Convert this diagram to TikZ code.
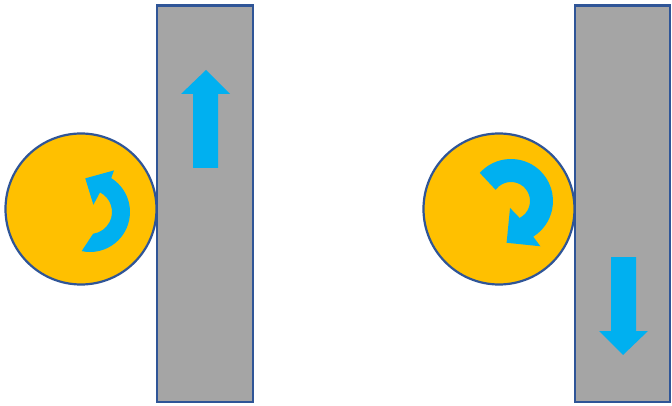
\documentclass[tikz,border=0pt]{standalone}
\usetikzlibrary{calc}
\definecolor{ballfill}{HTML}{FFC000}
\definecolor{edgeblue}{HTML}{2F5597}
\definecolor{wallgray}{HTML}{A5A5A5}
\definecolor{arrowblue}{HTML}{00B0F0}
\tikzset{
  ball/.style={fill=ballfill,draw=edgeblue,line width=2.2pt},
  wall/.style={fill=wallgray,draw=edgeblue,line width=2.2pt},
  blueshape/.style={fill=arrowblue,draw=none}
}
\begin{document}
\begin{tikzpicture}[x=1pt,y=-1pt]
\useasboundingbox (0,0) rectangle (672,406);
% left scene
\draw[ball] (81,209) circle[radius=75.5];
\draw[wall] (157,5.5) rectangle (253,402);
\fill[blueshape] (193,168) -- (193,94) -- (181,94) -- (206,70) -- (230,94) -- (218,94) -- (218,168) -- cycle;
\coordinate (lc) at (90,212);
\fill[blueshape] ($(lc)+(102:40)$) arc[start angle=102,end angle=-58,radius=40]
  -- ($(lc)+(-60:48)$) -- ($(lc)+(-98:34)$) -- ($(lc)+(-65:8)$) -- ($(lc)+(-63:22)$)
  arc[start angle=-63,end angle=82,radius=22] -- cycle;
% right scene
\draw[ball] (499,209) circle[radius=75.5];
\draw[wall] (575,5.5) rectangle (670,402);
\fill[blueshape] (611,257) -- (636,257) -- (636,331) -- (648,331) -- (623,355) -- (599,331) -- (611,331) -- cycle;
\coordinate (rc) at (511,201);
\fill[blueshape] ($(rc)+(-138:42)$) arc[start angle=-138,end angle=58,radius=42]
  -- ($(rc)+(57:54)$) -- ($(rc)+(96:42)$) -- ($(rc)+(98:7)$) -- ($(rc)+(63:19)$)
  arc[start angle=63,end angle=-144,radius=19] -- cycle;
\end{tikzpicture}
\end{document}
